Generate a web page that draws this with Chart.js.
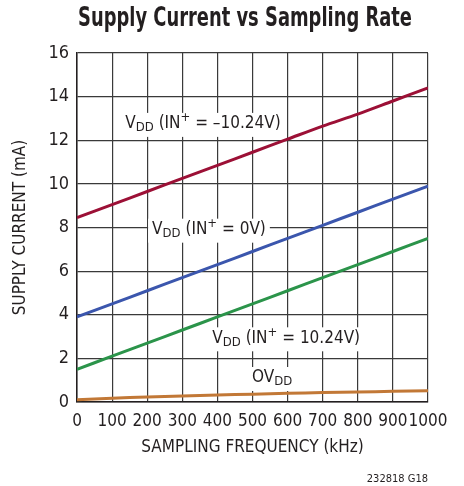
<!DOCTYPE html>
<html>
<head>
<meta charset="utf-8">
<script src="https://cdn.jsdelivr.net/npm/chart.js@4"></script>
<style>
  html, body { margin: 0; padding: 0; background: #fff; }
  #wrap { width: 464px; height: 486px; position: relative; }
</style>
</head>
<body>
<div id="wrap"><canvas id="chart" width="464" height="486"></canvas></div>
<script>
// Sampling frequency (kHz)
const freqs = [0, 100, 200, 300, 400, 500, 600, 700, 800, 900, 1000];

// Supply current (mA)
const vddNeg = [8.45, 9.05, 9.65, 10.25, 10.85, 11.45, 12.05, 12.65, 13.2, 13.8, 14.4];
const vddZero = [3.9, 4.5, 5.1, 5.7, 6.3, 6.9, 7.5, 8.1, 8.7, 9.3, 9.9];
const vddPos = [1.5, 2.1, 2.7, 3.3, 3.9, 4.5, 5.1, 5.7, 6.3, 6.9, 7.5];
const ovdd = [0.1, 0.17, 0.23, 0.28, 0.32, 0.36, 0.4, 0.43, 0.46, 0.49, 0.52];

const FONT = '"Liberation Sans Narrow", "DejaVu Sans Condensed", "DejaVu Sans", sans-serif';
const COND = 'condensed'; // goes into the weight slot so the font string asks for the condensed face

// curve labels, placed in data units
const curveLabels = [
    {parts: [['V', 'n'], ['DD', 'sub'], [' (IN', 'n'], ['+', 'sup'], [' = \u201310.24V)', 'n']], x: 359, y: 12.75},
    {parts: [['V', 'n'], ['DD', 'sub'], [' (IN', 'n'], ['+', 'sup'], [' = 0V)', 'n']], x: 376, y: 7.9},
    {parts: [['V', 'n'], ['DD', 'sub'], [' (IN', 'n'], ['+', 'sup'], [' = 10.24V)', 'n']], x: 596, y: 2.92},
    {parts: [['OV', 'n'], ['DD', 'sub']], x: 556, y: 1.1}
];

const labelPlugin = {
    id: 'curveLabels',
    afterDraw(chart) {
        const ctx = chart.ctx;
        const xs = chart.scales.x, ys = chart.scales.y;
        ctx.save();
        ctx.textBaseline = 'middle';
        ctx.textAlign = 'left';
        const fnt = k => COND + ' ' + (k === 'n' ? 17 : 13) + 'px ' + FONT;
        curveLabels.forEach(lab => {
            let w = 0;
            lab.parts.forEach(([t, k]) => {
                ctx.font = fnt(k);
                w += ctx.measureText(t).width;
            });
            const cx = xs.getPixelForValue(lab.x);
            const cy = ys.getPixelForValue(lab.y);
            let x = cx - w / 2;
            ctx.fillStyle = '#fff';
            ctx.fillRect(x - 4, cy - 11, w + 8, 24);
            ctx.fillStyle = '#231f20';
            lab.parts.forEach(([t, k]) => {
                ctx.font = fnt(k);
                let dy = 0;
                if (k === 'sub') dy = 4;
                if (k === 'sup') dy = -6;
                ctx.fillText(t, x, cy + dy);
                x += ctx.measureText(t).width;
            });
        });
        // title, squeezed to the narrow look of the original
        ctx.save();
        ctx.translate(245, 19);
        ctx.scale(0.765, 1);
        ctx.font = 'bold ' + COND + ' 26px ' + FONT;
        ctx.textAlign = 'center';
        ctx.fillText('Supply Current vs Sampling Rate', 0, 0);
        ctx.restore();
        ctx.font = COND + ' 11px ' + FONT;
        ctx.textAlign = 'right';
        ctx.fillText('232818 G18', 428, 479);
        ctx.restore();
    }
};

const mk = (label, data, color) => ({
    label: label,
    data: freqs.map((f, i) => ({x: f, y: data[i]})),
    borderColor: color,
    borderWidth: 3,
    pointRadius: 0,
    fill: false,
    tension: 0.3
});

new Chart(document.getElementById('chart').getContext('2d'), {
    type: 'line',
    data: {
        datasets: [
            mk('VDD (IN+ = -10.24V)', vddNeg, '#9c1036'),
            mk('VDD (IN+ = 0V)', vddZero, '#3b56ad'),
            mk('VDD (IN+ = 10.24V)', vddPos, '#2b944a'),
            mk('OVDD', ovdd, '#c27836')
        ]
    },
    options: {
        responsive: false,
        animation: false,
        layout: {padding: {top: 53, right: 36, left: 0, bottom: 28}},
        plugins: {legend: {display: false}, tooltip: {enabled: false}},
        scales: {
            x: {
                type: 'linear',
                min: 0, max: 1000,
                afterFit: s => { s.height = 56; },
                border: {color: '#231f20', width: 1.5},
                grid: {color: '#3a3a3a', lineWidth: 1.2, drawTicks: false},
                ticks: {stepSize: 100, color: '#231f20', padding: 9, maxRotation: 0, autoSkip: false,
                        callback: v => String(v),
                        font: {family: FONT, size: 17, weight: COND}},
                title: {display: true, text: 'SAMPLING FREQUENCY (kHz)', color: '#231f20',
                        font: {family: FONT, size: 17, weight: COND}, padding: {top: 2, bottom: 0}}
            },
            y: {
                min: 0, max: 16,
                afterFit: s => { s.width = 77; },
                border: {color: '#231f20', width: 1.5},
                grid: {color: '#3a3a3a', lineWidth: 1.2, drawTicks: false},
                ticks: {stepSize: 2, color: '#231f20', padding: 8,
                        font: {family: FONT, size: 18, weight: COND}},
                title: {display: true, text: 'SUPPLY CURRENT (mA)', color: '#231f20',
                        font: {family: FONT, size: 17, weight: COND}, padding: {top: 10, bottom: 4}}
            }
        }
    },
    plugins: [labelPlugin]
});
</script>
</body>
</html>
